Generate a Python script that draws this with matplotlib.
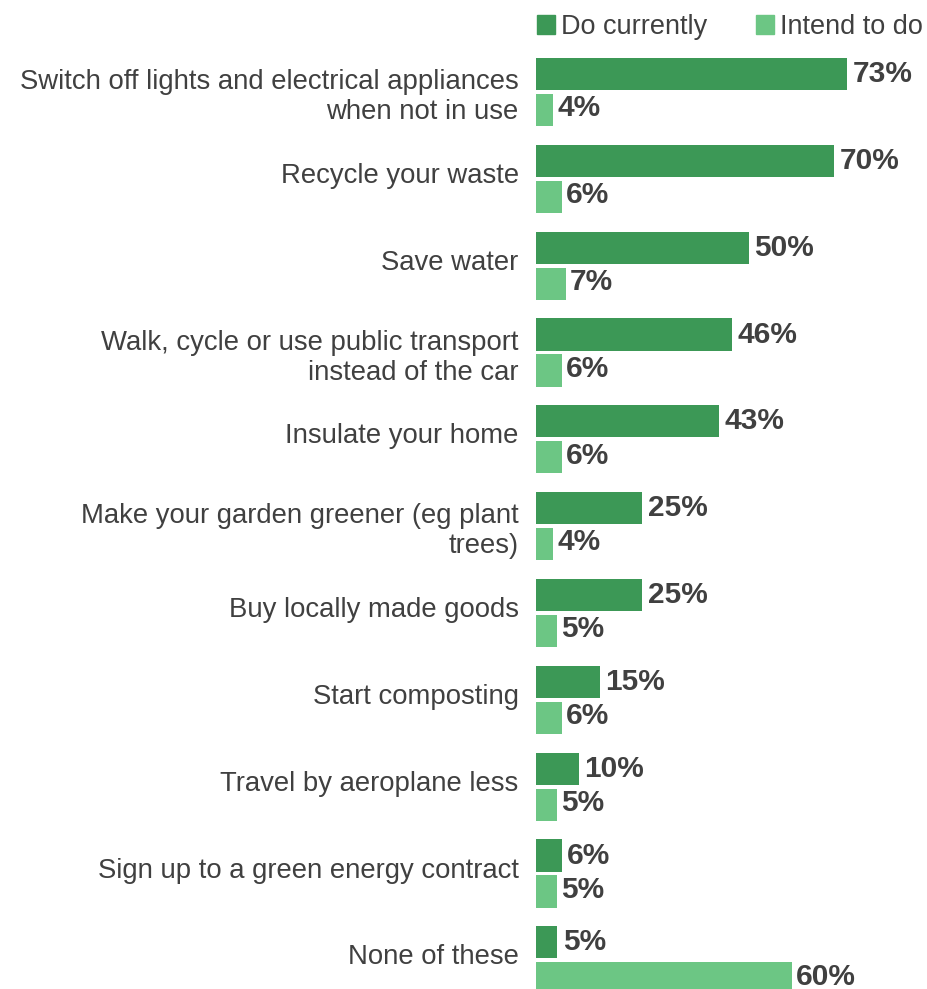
import matplotlib
matplotlib.use("Agg")
import matplotlib.pyplot as plt
import matplotlib.transforms as mtransforms
import numpy as np
from matplotlib.patches import Patch

plt.rcParams['font.family'] = ['Liberation Sans', 'DejaVu Sans']

actions = [
    "Switch off lights and electrical appliances\nwhen not in use",
    "Recycle your waste",
    "Save water",
    "Walk, cycle or use public transport\ninstead of the car",
    "Insulate your home",
    "Make your garden greener (eg plant\ntrees)",
    "Buy locally made goods",
    "Start composting",
    "Travel by aeroplane less",
    "Sign up to a green energy contract",
    "None of these",
]
do_currently = [73, 70, 50, 46, 43, 25, 25, 15, 10, 6, 5]
intend_to_do = [4, 6, 7, 6, 6, 4, 5, 6, 5, 5, 60]

dark = "#3c9856"
light = "#6cc684"
txt = "#404040"

fig = plt.figure(figsize=(9.27, 9.89), dpi=100)
ax = fig.add_axes([536 / 927, 0, 391 / 927, 939 / 989])

y = np.arange(len(actions))
h = 0.37
off = 0.207
ax.barh(y - off, do_currently, height=h, color=dark)
ax.barh(y + off, intend_to_do, height=h, color=light)

for yi, v in zip(y, do_currently):
    ax.text(v + 1.3, yi - off, f"{v}%", va="center", ha="left",
            fontsize=21.5, fontweight="bold", color=txt, clip_on=False)
for yi, v in zip(y, intend_to_do):
    ax.text(v + 1.0, yi + off - 0.02, f"{v}%", va="center", ha="left",
            fontsize=21.5, fontweight="bold", color=txt, clip_on=False)

ax.set_xlim(0, 91.8)
ax.set_ylim(10.33, -0.484)
ax.set_yticks(y)
ax.set_yticklabels(actions, fontsize=19.8, color=txt, linespacing=1.2)
ax.tick_params(axis="y", length=0, pad=12.5)
# single-line labels sit a little above the group centre
for lab in ax.get_yticklabels():
    if "\n" not in lab.get_text():
        lab.set_transform(lab.get_transform() +
                          mtransforms.ScaledTranslation(0, 6 / 100, fig.dpi_scale_trans))
ax.set_xticks([])
for s in ax.spines.values():
    s.set_visible(False)

handles = [Patch(color=dark, label="Do currently"),
           Patch(color=light, label="Intend to do")]
fig.legend(handles=handles, loc="upper left", bbox_to_anchor=(537 / 927, 1 - 14 / 989),
           ncol=2, frameon=False, fontsize=19.5, labelcolor=txt,
           handlelength=0.68, handleheight=0.68, handletextpad=0.2,
           columnspacing=1.8, borderaxespad=0, borderpad=0)

fig.savefig("out.png", dpi=100)
